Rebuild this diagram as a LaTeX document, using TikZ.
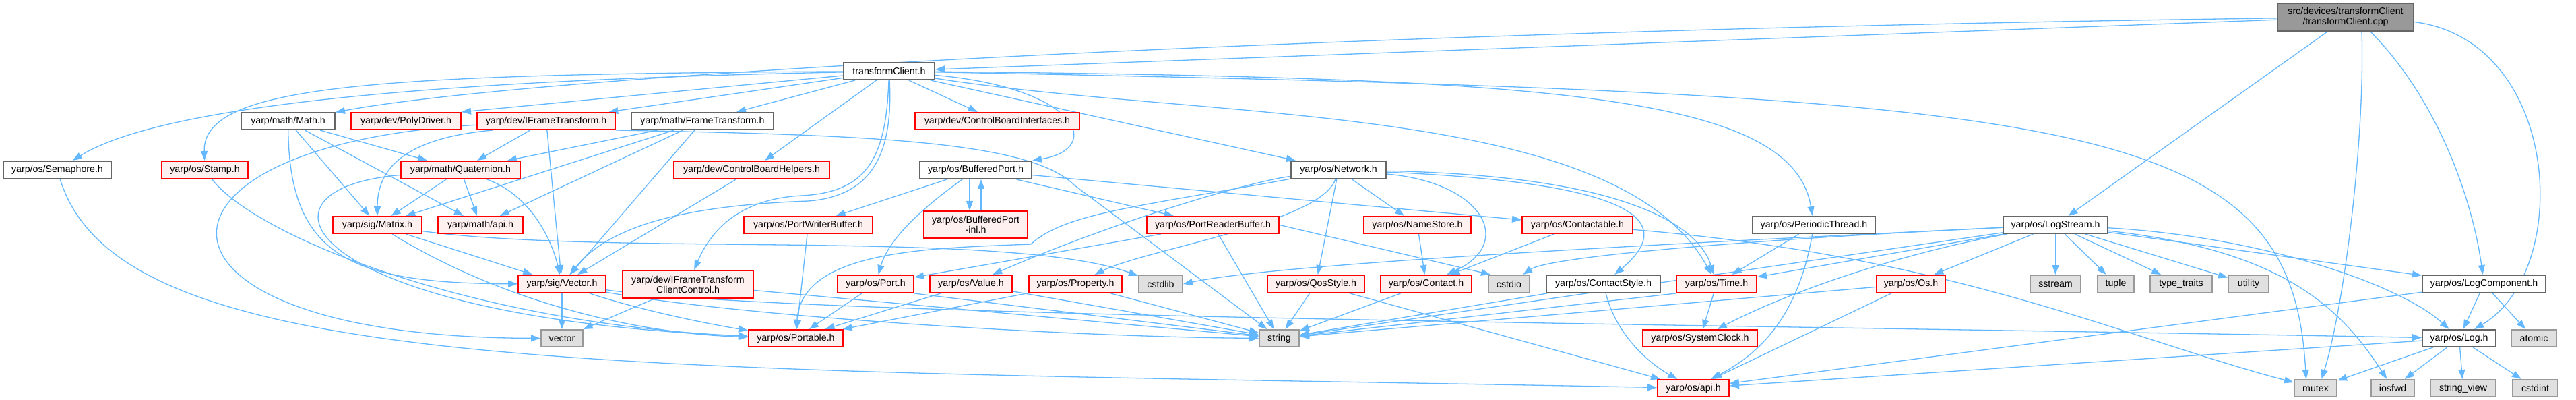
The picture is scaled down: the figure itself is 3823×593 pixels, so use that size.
\documentclass[tikz,border=0pt]{standalone}
\usepackage{fontspec}
\newfontfamily\lsans{Liberation Sans}
\usetikzlibrary{arrows.meta}
\definecolor{eblue}{HTML}{63B8FF}
\definecolor{gborder}{HTML}{666666}
\definecolor{sysborder}{HTML}{999999}
\definecolor{sysfill}{HTML}{E0E0E0}
\definecolor{rootfill}{HTML}{999999}
\definecolor{rfill}{HTML}{FFF0F0}
\definecolor{rborder}{HTML}{FF0000}
\pgfdeclarelayer{bgl}\pgfdeclarelayer{edges}\pgfsetlayers{bgl,edges,main}
\newcommand\nd[7]{\node[#6, minimum width={(#3-#2)*0.5pt}, minimum height={(#5-#4)*0.5pt}] (#1) at ({(#2+#3)/2},{(#4+#5)/2}) {#7};}
\tikzset{
  box/.style={rectangle, inner sep=0pt, line width=1pt, align=center, font=\lsans\fontsize{7.1pt}{7.5pt}\selectfont},
  wbox/.style={box, draw=gborder, fill=white},
  rbox/.style={box, draw=rborder, fill=rfill},
  gbox/.style={box, draw=sysborder, fill=sysfill},
  rootbox/.style={box, draw=gborder, fill=rootfill},
  edg/.style={draw=eblue, line width=0.65pt, -{Triangle[length=7pt,width=5pt]}},
}
\begin{document}
\begin{tikzpicture}[x=0.5pt,y=-0.5pt]
\begin{pgfonlayer}{bgl}
\fill[white] (0,0) rectangle (3823,593);
\end{pgfonlayer}
\useasboundingbox (0,0) rectangle (3823,593);
% nodes
\nd{ncpp}{3380}{3582}{5}{46}{rootbox}{src/devices/transformClient\\/transformClient.cpp}
\nd{ntc}{1252}{1387}{93}{118}{wbox}{transformClient.h}
\nd{nmath}{358}{497}{167}{192}{wbox}{yarp/math/Math.h}
\nd{npoly}{521}{684}{167}{192}{rbox}{yarp/dev/PolyDriver.h}
\nd{nift}{708}{913}{167}{192}{rbox}{yarp/dev/IFrameTransform.h}
\nd{nftr}{937}{1148}{167}{192}{wbox}{yarp/math/FrameTransform.h}
\nd{ncbi}{1358}{1602}{167}{192}{rbox}{yarp/dev/ControlBoardInterfaces.h}
\nd{nsem}{5}{165}{239}{265}{wbox}{yarp/os/Semaphore.h}
\nd{nstamp}{240}{368}{239}{265}{rbox}{yarp/os/Stamp.h}
\nd{nquat}{595}{772}{239}{265}{rbox}{yarp/math/Quaternion.h}
\nd{ncbh}{1000}{1231}{239}{265}{rbox}{yarp/dev/ControlBoardHelpers.h}
\nd{nbport}{1365}{1531}{239}{265}{wbox}{yarp/os/BufferedPort.h}
\nd{nnet}{1916}{2057}{239}{265}{wbox}{yarp/os/Network.h}
\nd{nmatrix}{494}{626}{321}{346}{rbox}{yarp/sig/Matrix.h}
\nd{nmapi}{650}{776}{321}{346}{rbox}{yarp/math/api.h}
\nd{npwb}{1104}{1295}{321}{346}{rbox}{yarp/os/PortWriterBuffer.h}
\nd{nbpinl}{1371}{1525}{313}{353}{rbox}{yarp/os/BufferedPort\\-inl.h}
\nd{nprb}{1702}{1898}{321}{346}{rbox}{yarp/os/PortReaderBuffer.h}
\nd{nnames}{2024}{2183}{321}{346}{rbox}{yarp/os/NameStore.h}
\nd{nctable}{2259}{2423}{321}{346}{rbox}{yarp/os/Contactable.h}
\nd{npthread}{2601}{2783}{321}{346}{wbox}{yarp/os/PeriodicThread.h}
\nd{nlstream}{2973}{3128}{321}{346}{wbox}{yarp/os/LogStream.h}
\nd{nvec}{769}{899}{408}{434}{rbox}{yarp/sig/Vector.h}
\nd{niftcc}{924}{1118}{401}{442}{rbox}{yarp/dev/IFrameTransform\\ClientControl.h}
\nd{nport}{1243}{1356}{408}{434}{rbox}{yarp/os/Port.h}
\nd{nvalue}{1380}{1502}{408}{434}{rbox}{yarp/os/Value.h}
\nd{nprop}{1527}{1665}{408}{434}{rbox}{yarp/os/Property.h}
\nd{ncstdlib}{1690}{1755}{408}{434}{gbox}{cstdlib}
\nd{nqos}{1881}{2025}{408}{434}{rbox}{yarp/os/QosStyle.h}
\nd{ncontact}{2049}{2184}{408}{434}{rbox}{yarp/os/Contact.h}
\nd{ncstdio}{2209}{2270}{408}{434}{gbox}{cstdio}
\nd{ncstyle}{2295}{2464}{408}{434}{wbox}{yarp/os/ContactStyle.h}
\nd{ntime}{2488}{2607}{408}{434}{rbox}{yarp/os/Time.h}
\nd{nos}{2785}{2887}{408}{434}{rbox}{yarp/os/Os.h}
\nd{nsstream}{3013}{3088}{408}{434}{gbox}{sstream}
\nd{ntuple}{3113}{3167}{408}{434}{gbox}{tuple}
\nd{nttraits}{3191}{3283}{408}{434}{gbox}{type\_traits}
\nd{nutility}{3307}{3367}{408}{434}{gbox}{utility}
\nd{nlcomp}{3595}{3778}{408}{434}{wbox}{yarp/os/LogComponent.h}
\nd{nvector}{803}{865}{489}{514}{gbox}{vector}
\nd{nportable}{1111}{1251}{489}{514}{rbox}{yarp/os/Portable.h}
\nd{nstring}{1869}{1928}{489}{514}{gbox}{string}
\nd{nsclock}{2438}{2608}{489}{514}{rbox}{yarp/os/SystemClock.h}
\nd{nlog}{3595}{3704}{489}{514}{wbox}{yarp/os/Log.h}
\nd{natomic}{3727}{3794}{489}{514}{gbox}{atomic}
\nd{napi}{2460}{2566}{563}{588}{rbox}{yarp/os/api.h}
\nd{nmutex}{3405}{3468}{563}{588}{gbox}{mutex}
\nd{niosfwd}{3519}{3583}{563}{588}{gbox}{iosfwd}
\nd{nsview}{3607}{3704}{563}{588}{gbox}{string\_view}
\nd{ncstdint}{3729}{3796}{563}{588}{gbox}{cstdint}
\begin{pgfonlayer}{edges}
% cpp
\draw[edg] (ncpp) -- (ntc);
\draw[edg] (ncpp) .. controls (2000,45) and (800,110) .. (nmath);
\draw[edg] ([xshift=-13.5pt]ncpp.south) -- (nlstream);
\draw[edg] ([xshift=12pt]ncpp.south) .. controls (3510,200) and (3480,450) .. ([xshift=4.5pt]nmutex.north);
\draw[edg] ([xshift=18.5pt]ncpp.south) .. controls (3620,150) and (3670,300) .. (nlcomp);
\draw[edg] ([yshift=-3.5pt]ncpp.east) .. controls (3800,60) and (3820,400) .. (nlog);
% transformClient.h
\draw[edg] (ntc) .. controls (700,118) and (250,150) .. (nsem);
\draw[edg] (ntc) .. controls (560,110) and (300,125) .. (nstamp);
\draw[edg] (ntc) -- (npoly.north east);
\draw[edg] (ntc) -- (nift);
\draw[edg] (ntc) -- (nftr);
\draw[edg] (ntc) -- (ncbi);
\draw[edg] (ntc) -- (ncbh);
\draw[edg] (ntc) .. controls (1600,130) and (1640,220) .. (nbport);
\draw[edg] (ntc) -- (nnet);
\draw[edg] (ntc) .. controls (2300,115) and (2660,140) .. (npthread);
\draw[edg] (ntc) .. controls (1800,180) and (2400,150) .. (ntime);
\draw[edg] (ntc) .. controls (3100,140) and (3400,170) .. ([xshift=-7pt]nmutex.north);
\draw[edg] (ntc) .. controls (1325,220) and (1300,290) .. (1200,298) .. controls (1000,305) and (900,340) .. (nvec);
\draw[edg] (ntc) .. controls (1315,230) and (1290,285) .. (1190,290) .. controls (1110,294) and (1060,330) .. (niftcc);
% Math.h
\draw[edg] (nmath) -- (nmatrix);
\draw[edg] (nmath) -- (nquat);
\draw[edg] (nmath) -- (nmapi);
\draw[edg] (nmath) .. controls (430,380) and (520,420) .. (nvec);
% IFrameTransform.h
\draw[edg] (nift) -- (nquat);
\draw[edg] ([xshift=12pt]nift.south west) .. controls (600,205) and (560,250) .. (nmatrix);
\draw[edg] (nift) -- (nvec);
\draw[edg] (nift.south east) .. controls (1300,200) and (1530,210) .. (1595,275) -- (nstring);
\draw[edg] (nift) .. controls (180,215) and (180,500) .. (nvector);
% FrameTransform.h
\draw[edg] (nftr) -- (nquat);
\draw[edg] (nftr) -- (nmatrix);
\draw[edg] (nftr) -- (nmapi);
\draw[edg] (nftr) -- (nvec);
% Quaternion.h
\draw[edg] (nquat) -- (nmatrix);
\draw[edg] (nquat) -- (nmapi);
\draw[edg] (nquat) .. controls (790,290) and (820,360) .. (nvec);
\draw[edg] (nquat) .. controls (350,280) and (450,470) .. (nportable);
% Semaphore, Stamp, helpers
\draw[edg] (nsem) .. controls (180,560) and (900,545) .. (napi);
\draw[edg] (nstamp) .. controls (380,350) and (700,480) .. (nportable);
\draw[edg] (ncbh) -- (nvec);
% Matrix.h
\draw[edg] (nmatrix) -- (nvec);
\draw[edg] (nmatrix) .. controls (750,450) and (950,495) .. (nportable);
\draw[edg] (nmatrix) .. controls (900,380) and (1500,340) .. (ncstdlib);
% Vector.h
\draw[edg] (nvec) -- (nvector);
\draw[edg] (nvec) .. controls (950,460) and (1050,480) .. (nportable);
\draw[edg] (nvec) .. controls (1100,470) and (1600,500) .. (nstring);
\draw[edg] (nvec) .. controls (1200,470) and (2500,480) .. (nlog);
% IFrameTransformClientControl.h
\draw[edg] (niftcc) -- (nvector);
\draw[edg] (niftcc) -- (nstring);
% PortWriterBuffer
\draw[edg] (npwb) -- (nportable);
% BufferedPort
\draw[edg] ([xshift=-4.5pt]nbport.south) -- ([xshift=-4.5pt]nbpinl.north);
\draw[edg] ([xshift=4pt]nbpinl.north) -- ([xshift=4pt]nbport.south);
\draw[edg] (nbport) -- (npwb);
\draw[edg] (nbport) .. controls (1380,300) and (1320,350) .. (nport);
\draw[edg] (nbport) -- (nprb);
\draw[edg] (nbport) -- (nctable);
% PortReaderBuffer
\draw[edg] (nprb) -- (nport);
\draw[edg] (nprb) -- (nstring);
\draw[edg] (nprb.east) -- ([xshift=2pt]ncstdio.north west);
% Network
\draw[edg] (nnet) .. controls (1700,305) and (1580,315) .. (1530,362) .. controls (1380,368) and (1190,370) .. (nportable);
\draw[edg] (nnet) .. controls (1850,270) and (1650,330) .. (nvalue);
\draw[edg] (nnet) .. controls (1960,330) and (1700,370) .. (nprop);
\draw[edg] (nnet) -- (nqos);
\draw[edg] (nnet) -- (nnames);
\draw[edg] (nnet) .. controls (2200,270) and (2250,360) .. (ncontact);
\draw[edg] (nnet) .. controls (2400,270) and (2500,320) .. (ncstyle);
\draw[edg] (nnet) .. controls (2400,260) and (2520,330) .. (ntime);
% NameStore, Contactable
\draw[edg] (nnames) -- (ncontact);
\draw[edg] (nctable) -- (ncontact);
\draw[edg] (nctable) .. controls (2900,380) and (3150,500) .. (nmutex);
% Port, Value, Property
\draw[edg] (nport) -- (nportable);
\draw[edg] (nport.south east) -- (nstring);
\draw[edg] (nvalue) -- (nportable);
\draw[edg] (nvalue) -- (nstring);
\draw[edg] (nprop) -- (nportable);
\draw[edg] (nprop) -- (nstring);
% QosStyle, Contact, ContactStyle, Time, Os
\draw[edg] (nqos) -- (nstring);
\draw[edg] (nqos) -- (napi);
\draw[edg] (ncontact) -- (nstring);
\draw[edg] (ncstyle) -- (nstring);
\draw[edg] (ncstyle) .. controls (2400,500) and (2450,540) .. (napi);
\draw[edg] (ntime) -- (nsclock);
\draw[edg] (ntime.south west) -- (nstring);
\draw[edg] (nos) -- (nstring);
\draw[edg] (nos) -- (napi);
% PeriodicThread
\draw[edg] (npthread) -- (ntime);
\draw[edg] (npthread) .. controls (2670,460) and (2620,520) .. (napi);
% LogStream
\draw[edg] (nlstream) -- (nos);
\draw[edg] (nlstream) -- (nsstream);
\draw[edg] (nlstream) -- (ntuple);
\draw[edg] (nlstream) -- (nttraits);
\draw[edg] (nlstream) -- (nutility);
\draw[edg] (nlstream) -- (nlcomp);
\draw[edg] (nlstream) .. controls (3350,350) and (3560,420) .. (nlog);
\draw[edg] (nlstream) .. controls (3380,370) and (3470,450) .. (niosfwd);
\draw[edg] (nlstream) -- (nstring);
\draw[edg] (nlstream) .. controls (2600,355) and (2300,380) .. (ncstdio);
\draw[edg] (nlstream) .. controls (2500,360) and (1900,390) .. (ncstdlib.east);
\draw[edg] (nlstream) -- (ntime);
\draw[edg] (nlstream) .. controls (2800,380) and (2640,440) .. (nsclock);
% LogComponent, Log
\draw[edg] (nlcomp) -- (nlog);
\draw[edg] (nlcomp) -- (natomic);
\draw[edg] (nlcomp) -- (napi);
\draw[edg] (nlog) -- (nmutex);
\draw[edg] (nlog) -- (niosfwd);
\draw[edg] (nlog) -- (nsview);
\draw[edg] (nlog) -- (ncstdint);
\draw[edg] (nlog) -- (napi);
\end{pgfonlayer}
\end{tikzpicture}
\end{document}
